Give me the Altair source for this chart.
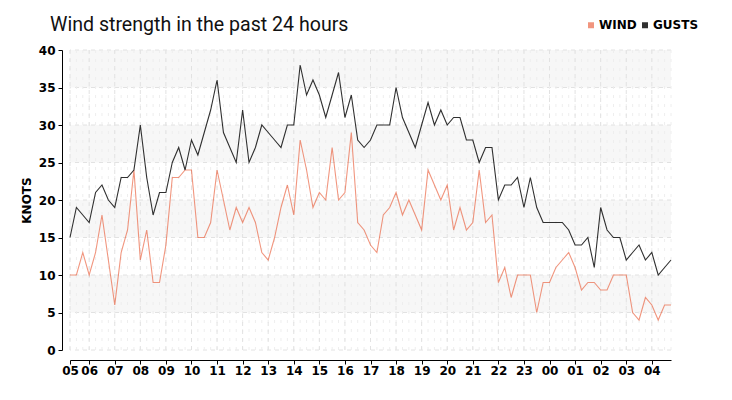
import altair as alt
import pandas as pd

# ---- data ----
title_text = "Wind strength in the past 24 hours"
series_names = ["WIND", "GUSTS"]
series_colors = ["#e8502a", "#1a1a1a"]
series_opacity = [0.6, 0.9]

start_hour = 5.25   # first reading 05:15
step_hours = 0.25   # one reading every 15 minutes

gusts = [15, 19, 18, 17, 21, 22, 20, 19, 23, 23, 24, 30, 23, 18, 21, 21, 25, 27, 24, 28, 26, 29, 32, 36,
         29, 27, 25, 32, 25, 27, 30, 29, 28, 27, 30, 30, 38, 34, 36, 34, 31, 34, 37, 31, 34, 28, 27, 28,
         30, 30, 30, 35, 31, 29, 27, 30, 33, 30, 32, 30, 31, 31, 28, 28, 25, 27, 27, 20, 22, 22, 23,
         19, 23, 19, 17, 17, 17, 17, 16, 14, 14, 15, 11, 19, 16, 15, 15, 12, 13, 14, 12, 13, 10, 11, 12]

wind = [10, 10, 13, 10, 13, 18, 12, 6, 13, 16, 24, 12, 16, 9, 9, 14, 23, 23, 24, 24, 15, 15, 17, 24,
        20, 16, 19, 17, 19, 17, 13, 12, 15, 19, 22, 18, 28, 24, 19, 21, 20, 27, 20, 21, 29, 17, 16, 14,
        13, 18, 19, 21, 18, 20, 18, 16, 24, 22, 20, 22, 16, 19, 16, 17, 24, 17, 18, 9, 11, 7, 10,
        10, 10, 5, 9, 9, 11, 12, 13, 11, 8, 9, 9, 8, 8, 10, 10, 10, 5, 4, 7, 6, 4, 6, 6]

hour_ticks = [5.25] + list(range(6, 29))
y_ticks = [0, 5, 10, 15, 20, 25, 30, 35, 40]
band_lo = [5, 15, 25, 35]
band_hi = [10, 20, 30, 40]

hours = [start_hour + step_hours * i for i in range(len(wind))]

W, H = 601, 300
FONT = "DejaVu Sans"

series_col = ["WIND"] * len(wind) + ["GUSTS"] * len(gusts)
long_df = pd.DataFrame({
    "t": hours * 2,
    "v": wind + gusts,
    "series": series_col,
    "shade": series_col,
})
bands_df = pd.DataFrame({"lo": band_lo, "hi": band_hi})
ygrid_df = pd.DataFrame({"y": y_ticks})
major_df = pd.DataFrame({"t": hour_ticks})
minor_df = pd.DataFrame({"t": hours})
title_df = pd.DataFrame({"text": [title_text]})

xscale = alt.Scale(domain=[hours[0], hours[-1]], nice=False, zero=False)
yscale = alt.Scale(domain=[0, 40], nice=False)

label_expr = "(floor(datum.value) % 24 < 10 ? '0' : '') + (floor(datum.value) % 24)"

x_axis = alt.Axis(values=hour_ticks, labelExpr=label_expr, grid=False, offset=10,
                  labelFlush=False, labelOverlap=False, tickSize=4, labelPadding=1,
                  domainColor="#000", tickColor="#000", labelColor="#000",
                  labelFont=FONT, labelFontSize=12, labelFontWeight="bold")
y_axis = alt.Axis(values=y_ticks, grid=False, offset=8, tickSize=4, labelPadding=3,
                  domainColor="#000", tickColor="#000", labelColor="#000",
                  labelFont=FONT, labelFontSize=12, labelFontWeight="bold",
                  titleFont=FONT, titleFontSize=12, titleFontWeight="bold",
                  titleColor="#000", titlePadding=5)

bands = alt.Chart(bands_df).mark_rect(color="#f7f7f7").encode(
    x=alt.value(0), x2=alt.value(W),
    y=alt.Y("lo:Q", scale=yscale, title="KNOTS", axis=y_axis),
    y2="hi:Q",
)

hgrid = alt.Chart(ygrid_df).mark_rule(color="#e2e2e2", strokeDash=[4, 4], strokeWidth=1).encode(
    y=alt.Y("y:Q", scale=yscale, title="KNOTS", axis=y_axis)
)

vminor = alt.Chart(minor_df).mark_rule(color="#eeeeee", strokeDash=[3, 6], strokeWidth=1).encode(
    x=alt.X("t:Q", scale=xscale, title=None, axis=x_axis)
)

vmajor = alt.Chart(major_df).mark_rule(color="#e2e2e2", strokeDash=[4, 4], strokeWidth=1).encode(
    x=alt.X("t:Q", scale=xscale, title=None, axis=x_axis)
)

lines = alt.Chart(long_df).mark_line(strokeWidth=1.1, interpolate="linear").encode(
    x=alt.X("t:Q", scale=xscale, title=None, axis=x_axis),
    y=alt.Y("v:Q", scale=yscale, title="KNOTS", axis=y_axis),
    color=alt.Color("series:N", scale=alt.Scale(domain=series_names, range=series_colors),
                    legend=alt.Legend(title=None, orient="none", legendX=515, legendY=-31,
                                      direction="horizontal", symbolType="square", symbolSize=9,
                                      symbolStrokeWidth=3, symbolOpacity=1, labelFont=FONT,
                                      labelFontSize=12, labelFontWeight="bold", labelColor="#000",
                                      labelOffset=2, columnPadding=0)),
    opacity=alt.Opacity("shade:N", scale=alt.Scale(domain=series_names, range=series_opacity),
                        legend=None),
    detail="series:N",
    order=alt.Order("t:Q"),
)

title_mark = alt.Chart(title_df).mark_text(
    align="left", baseline="alphabetic", font="Roboto", fontSize=19.6, color="#111"
).encode(x=alt.value(-20), y=alt.value(-19), text="text:N")

chart = alt.layer(bands, hgrid, vminor, vmajor, lines, title_mark).properties(
    width=W, height=H,
    autosize=alt.AutoSizeParams(type="none"),
    padding={"left": 62, "top": 42, "right": 50, "bottom": 40},
).configure_view(stroke=None)

chart.save("out.html", embed_options={"renderer": "svg", "actions": False})
